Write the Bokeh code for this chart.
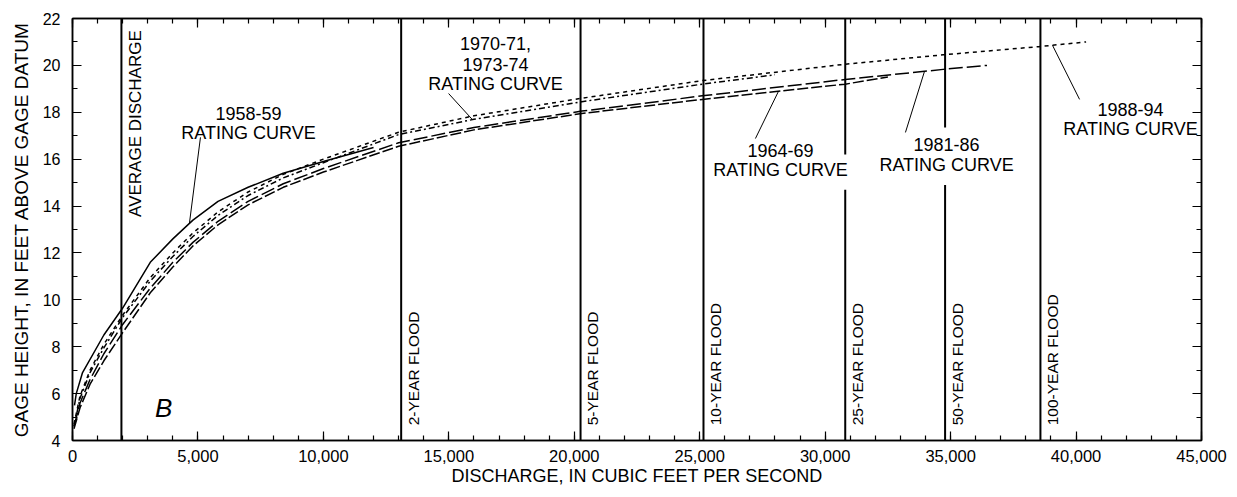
import numpy as np
from bokeh.plotting import figure
from bokeh.models import LinearAxis, Range1d, SingleIntervalTicker, NumeralTickFormatter
from bokeh.embed import file_html
from bokeh.resources import INLINE
from bokeh.core.properties import value

FONT = "Liberation Sans"

# ---- rating curves (discharge cfs, gage height ft) ----
q_5859 = [80, 150, 400, 1250, 2000, 3100, 4000, 4800, 5800, 7000, 8400, 10000, 12000]
h_5859 = [5.5, 6.0, 6.9, 8.5, 9.65, 11.6, 12.6, 13.4, 14.2, 14.8, 15.4, 15.9, 16.5]

q_6469 = [60, 300, 700, 1250, 2000, 3100, 4000, 4800, 5800, 7000, 8400, 10000, 13000, 16000, 20300, 25100, 30800, 32500]
h_6469 = [4.5, 5.4, 6.4, 7.4, 8.6, 10.3, 11.4, 12.3, 13.2, 14.05, 14.8, 15.45, 16.55, 17.25, 17.95, 18.55, 19.2, 19.5]

q_7074 = [60, 300, 700, 1250, 2000, 3100, 4000, 4800, 5800, 7000, 8400, 10000, 13000, 16000, 20300, 25100, 28000]
h_7074 = [4.6, 5.8, 6.9, 7.95, 9.25, 10.8, 11.85, 12.7, 13.6, 14.45, 15.2, 15.85, 17.05, 17.7, 18.45, 19.2, 19.6]

q_8186 = [60, 300, 700, 1250, 2000, 3100, 4000, 4800, 5800, 7000, 8400, 10000, 13000, 16000, 20300, 25100, 30800, 34700, 36450]
h_8186 = [4.6, 5.6, 6.6, 7.7, 8.95, 10.5, 11.6, 12.45, 13.35, 14.2, 14.95, 15.6, 16.7, 17.35, 18.05, 18.7, 19.4, 19.83, 20.0]

q_8894 = [60, 300, 700, 1250, 2000, 3100, 4000, 4800, 5800, 7000, 8400, 10000, 13000, 16000, 20300, 25100, 30800, 34700, 38500, 40400]
h_8894 = [4.7, 5.9, 7.0, 8.1, 9.35, 10.95, 12.0, 12.85, 13.75, 14.6, 15.35, 16.0, 17.15, 17.85, 18.6, 19.35, 20.05, 20.45, 20.8, 21.0]

# ---- reference discharges ----
flood_q = [1950, 13100, 20250, 25150, 30800, 34780, 38580]
flood_text = ["AVERAGE DISCHARGE", "2-YEAR FLOOD", "5-YEAR FLOOD", "10-YEAR FLOOD",
              "25-YEAR FLOOD", "50-YEAR FLOOD", "100-YEAR FLOOD"]
# gaps left in some lines for the curve labels (discharge -> (low, high) gage height)
flood_gaps = {30800: (14.7, 16.2), 34780: (14.9, 17.35)}

# ---- curve labels ----
label_text = ["1958-59", "RATING CURVE", "1970-71,", "1973-74", "RATING CURVE",
              "1964-69", "RATING CURVE", "1981-86", "RATING CURVE", "1988-94", "RATING CURVE"]
label_q = [7015, 7015, 16860, 16860, 16860, 28220, 28220, 34840, 34840, 42170, 42170]
label_h = [17.95, 17.1, 20.94, 20.04, 19.19, 16.37, 15.52, 16.63, 15.77, 18.12, 17.27]

leader_q0 = [5100, 14990, 27220, 33200, 40140]
leader_h0 = [16.93, 18.8, 16.88, 17.14, 18.55]
leader_q1 = [4660, 15940, 28140, 33960, 39060]

x_ticks_major = 5000
y_ticks_major = 2

p = figure(width=1229, height=489, output_backend="svg", toolbar_location=None,
           x_range=Range1d(0, 45000), y_range=Range1d(4, 22),
           min_border_left=72, min_border_right=28, min_border_top=18, min_border_bottom=49,
           background_fill_color="white", border_fill_color="white")
p.xgrid.visible = False
p.ygrid.visible = False
p.outline_line_color = "black"
p.outline_line_width = 1.5

def style_axis(ax, ticker, labels=True):
    ax.ticker = ticker
    ax.major_tick_in = 9
    ax.major_tick_out = 0
    ax.minor_tick_in = 5
    ax.minor_tick_out = 0
    ax.axis_line_color = "black"
    ax.axis_line_width = 1.5
    ax.major_tick_line_color = "black"
    ax.minor_tick_line_color = "black"
    ax.major_tick_line_width = 1.2
    ax.minor_tick_line_width = 1.2
    if labels:
        ax.major_label_text_font = FONT
        ax.major_label_text_color = "black"
        ax.axis_label_text_color = "black"
    else:
        ax.major_label_text_color = None
        ax.major_label_text_font_size = "1px"
        ax.major_label_standoff = 0

xt = SingleIntervalTicker(interval=x_ticks_major, num_minor_ticks=5)
yt = SingleIntervalTicker(interval=y_ticks_major, num_minor_ticks=2)

xa = p.xaxis[0]
style_axis(xa, xt)
xa.formatter = NumeralTickFormatter(format="0,0")
xa.major_label_text_font_size = "16.5px"
xa.major_label_standoff = 9
xa.axis_label = "DISCHARGE, IN CUBIC FEET PER SECOND"
xa.axis_label_text_font = FONT
xa.axis_label_text_font_style = "normal"
xa.axis_label_text_font_size = "18px"
xa.axis_label_standoff = 1

ya = p.yaxis[0]
style_axis(ya, yt)
ya.major_label_text_font_size = "16px"
ya.major_label_standoff = 12
ya.axis_label = "GAGE HEIGHT, IN FEET ABOVE GAGE DATUM"
ya.axis_label_text_font = FONT
ya.axis_label_text_font_style = "normal"
ya.axis_label_text_font_size = "19px"
ya.axis_label_standoff = 8

top = LinearAxis()
style_axis(top, SingleIntervalTicker(interval=x_ticks_major, num_minor_ticks=5), labels=False)
p.add_layout(top, "above")
right = LinearAxis()
style_axis(right, SingleIntervalTicker(interval=y_ticks_major, num_minor_ticks=2), labels=False)
p.add_layout(right, "right")

# ---- reference lines ----
y0, y1 = 4, 22
sx0, sx1, sy0, sy1 = [], [], [], []
for q in flood_q:
    if q in flood_gaps:
        lo, hi = flood_gaps[q]
        sx0 += [q, q]; sx1 += [q, q]; sy0 += [y0, hi]; sy1 += [lo, y1]
    else:
        sx0.append(q); sx1.append(q); sy0.append(y0); sy1.append(y1)
p.segment(x0=sx0, y0=sy0, x1=sx1, y1=sy1, line_color="black", line_width=2)

# ---- rating curves ----
p.line(q_5859, h_5859, line_color="black", line_width=1.5)
p.line(q_6469, h_6469, line_color="black", line_width=1.5, line_dash="11 3")
p.line(q_7074, h_7074, line_color="black", line_width=1.5, line_dash="6 3 2 3")
p.line(q_8186, h_8186, line_color="black", line_width=1.5, line_dash="14 4")
p.line(q_8894, h_8894, line_color="black", line_width=1.5, line_dash="4 4")

# ---- labels ----
p.text(x=label_q, y=label_h, text=label_text, text_font=value(FONT), text_font_size="18px",
       text_align="center", text_baseline="middle", text_color="black")

curves = [(q_5859, h_5859), (q_7074, h_7074), (q_6469, h_6469), (q_8186, h_8186), (q_8894, h_8894)]
leader_h1 = [float(np.interp(q, c[0], c[1])) for q, c in zip(leader_q1, curves)]
p.segment(x0=leader_q0, y0=leader_h0, x1=leader_q1, y1=leader_h1, line_color="black", line_width=1)

# flood labels: avg discharge at top, the rest at bottom
p.text(x=flood_q[:1], y=[21.5], text=flood_text[:1], angle=np.pi / 2, x_offset=14,
       text_font=value(FONT), text_font_size="17px", text_align="right",
       text_baseline="middle", text_color="black")
p.text(x=flood_q[1:], y=[4.65] * (len(flood_q) - 1), text=flood_text[1:], angle=np.pi / 2, x_offset=12,
       text_font=value(FONT), text_font_size="15.5px", text_align="left",
       text_baseline="middle", text_color="black")

p.text(x=[3630], y=[5.4], text=["B"], text_font=value(FONT), text_font_size="26px",
       text_font_style="italic", text_align="center", text_baseline="middle", text_color="black")

open("out.html", "w").write(file_html(p, INLINE))
